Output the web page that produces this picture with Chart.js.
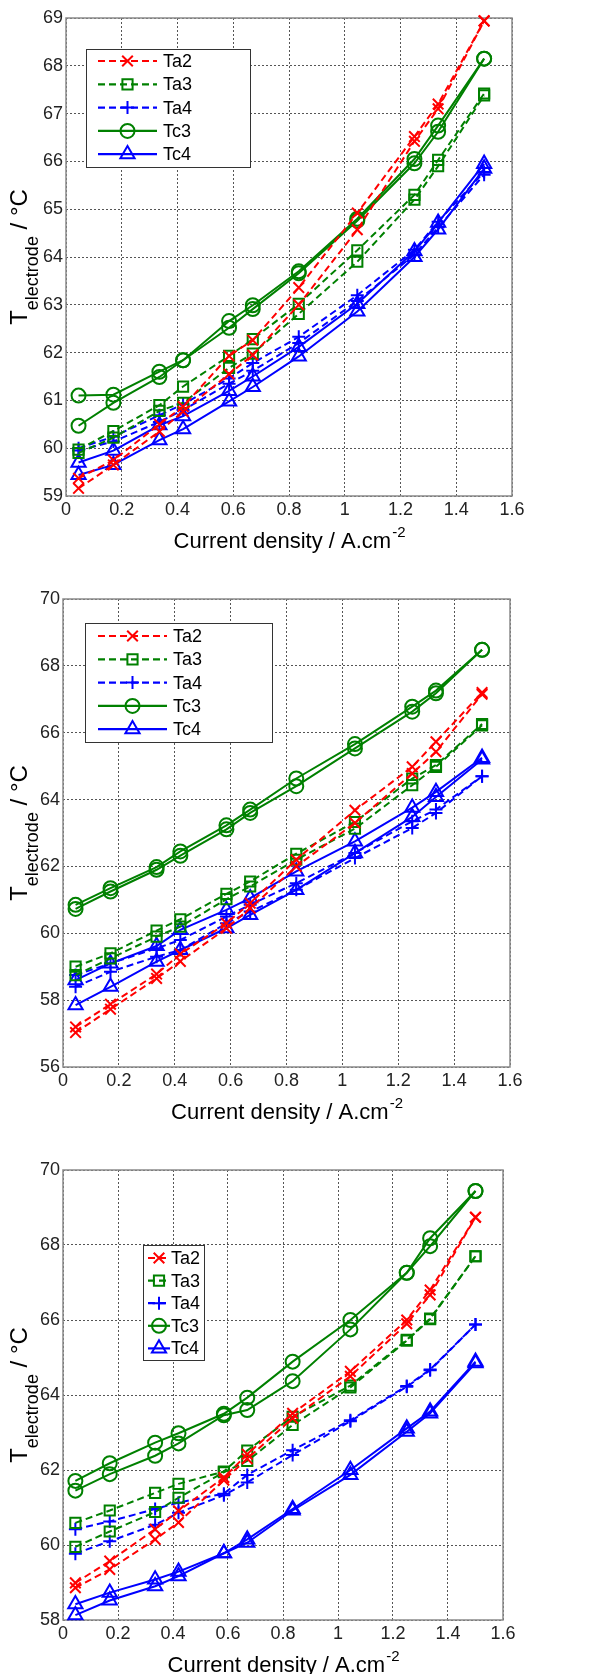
<!DOCTYPE html>
<html>
<head>
<meta charset="utf-8">
<title>Electrode temperature vs current density</title>
<script src="https://cdn.jsdelivr.net/npm/chart.js@4.4.1/dist/chart.umd.min.js"></script>
<style>
  html, body { margin: 0; padding: 0; background: #fff; }
  body { position: relative; width: 610px; height: 1674px; overflow: hidden; }
  canvas { position: absolute; left: 0; }
</style>
</head>
<body>
<canvas id="chart1" width="610" height="560" style="top:0px"></canvas>
<canvas id="chart2" width="610" height="562" style="top:562px"></canvas>
<canvas id="chart3" width="610" height="548" style="top:1126px"></canvas>

<script>
/* ---------------------------------------------------------
   Data — each series has two runs
--------------------------------------------------------- */
const currentDensity = [0.045, 0.17, 0.335, 0.42, 0.585, 0.67, 0.835, 1.045, 1.25, 1.335, 1.5];
const xTickValues = [0, 0.2, 0.4, 0.6, 0.8, 1, 1.2, 1.4, 1.6];
const seriesNames = ["Ta2", "Ta3", "Ta4", "Tc3", "Tc4"];

// top panel
const p1Ta2 = [[59.37, 59.75, 60.5, 60.87, 61.93, 62.26, 63.36, 64.92, 66.52, 67.2, 68.94],
               [59.16, 59.65, 60.35, 60.77, 61.55, 61.95, 63.0, 64.57, 66.42, 67.1, 68.94]];
const p1Ta3 = [[59.97, 60.36, 60.9, 61.29, 61.93, 62.28, 63.02, 64.14, 65.3, 66.03, 67.42],
               [59.9, 60.22, 60.78, 60.95, 61.68, 61.98, 62.81, 63.9, 65.2, 65.9, 67.38]];
const p1Ta4 = [[60.0, 60.24, 60.69, 60.92, 61.46, 61.78, 62.33, 63.2, 64.15, 64.74, 65.78],
               [59.95, 60.14, 60.55, 60.8, 61.35, 61.62, 62.2, 63.08, 64.05, 64.62, 65.72]];
const p1Tc3 = [[61.1, 61.12, 61.6, 61.84, 62.66, 62.99, 63.7, 64.8, 66.05, 66.75, 68.15],
               [60.47, 60.95, 61.49, 61.84, 62.52, 62.91, 63.66, 64.76, 65.96, 66.62, 68.15]];
const p1Tc4 = [[59.7, 59.95, 60.48, 60.67, 61.2, 61.5, 62.12, 63.02, 64.12, 64.72, 65.95],
               [59.44, 59.65, 60.17, 60.4, 60.98, 61.28, 61.92, 62.86, 64.0, 64.58, 65.85]];

// middle panel
const p2Ta2 = [[57.2, 57.88, 58.78, 59.38, 60.3, 60.9, 62.2, 63.68, 64.98, 65.73, 67.2],
               [57.03, 57.73, 58.65, 59.16, 60.15, 60.75, 62.0, 63.3, 64.78, 65.43, 67.15]];
const p2Ta3 = [[59.0, 59.4, 60.08, 60.42, 61.18, 61.55, 62.38, 63.33, 64.63, 65.03, 66.26],
               [58.75, 59.25, 59.9, 60.2, 61.02, 61.4, 62.2, 63.13, 64.43, 64.98, 66.22]];
const p2Ta4 = [[58.75, 59.1, 59.55, 59.8, 60.5, 60.85, 61.5, 62.4, 63.35, 63.7, 64.7],
               [58.4, 58.85, 59.3, 59.5, 60.3, 60.65, 61.3, 62.25, 63.15, 63.6, 64.7]];
const p2Tc3 = [[60.85, 61.35, 61.98, 62.45, 63.23, 63.7, 64.63, 65.66, 66.78, 67.26, 68.48],
               [60.73, 61.25, 61.9, 62.32, 63.11, 63.6, 64.4, 65.53, 66.63, 67.18, 68.48]];
const p2Tc4 = [[58.6, 59.1, 59.62, 60.1, 60.7, 61.05, 61.85, 62.75, 63.76, 64.23, 65.25],
               [57.85, 58.4, 59.15, 59.5, 60.15, 60.55, 61.3, 62.4, 63.48, 64.08, 65.2]];

// bottom panel
const p3Ta2 = [[58.99, 59.57, 60.42, 60.91, 61.8, 62.42, 63.51, 64.63, 66.0, 66.8, 68.74],
               [58.86, 59.35, 60.15, 60.6, 61.73, 62.3, 63.38, 64.5, 65.9, 66.67, 68.74]];
const p3Ta3 = [[60.59, 60.92, 61.39, 61.63, 61.96, 62.52, 63.42, 64.25, 65.47, 66.04, 67.7],
               [59.95, 60.36, 60.88, 61.26, 61.94, 62.24, 63.2, 64.2, 65.45, 66.02, 67.7]];
const p3Ta4 = [[60.42, 60.63, 60.96, 61.13, 61.37, 61.87, 62.53, 63.33, 64.24, 64.68, 65.88],
               [59.77, 60.1, 60.54, 60.86, 61.33, 61.67, 62.4, 63.3, 64.22, 64.66, 65.88]];
const p3Tc3 = [[61.71, 62.18, 62.73, 62.98, 63.5, 63.93, 64.89, 66.0, 67.26, 68.18, 69.44],
               [61.45, 61.89, 62.38, 62.71, 63.46, 63.6, 64.37, 65.75, 67.26, 67.97, 69.44]];
const p3Tc4 = [[58.42, 58.73, 59.08, 59.29, 59.78, 60.15, 60.96, 62.0, 63.11, 63.56, 64.89],
               [58.13, 58.52, 58.9, 59.17, 59.78, 60.06, 60.92, 61.87, 63.02, 63.51, 64.85]];

/* ---------------------------------------------------------
   Styles / layout
--------------------------------------------------------- */
const FONT = "'Liberation Sans', Arial, sans-serif";
Chart.defaults.font.family = FONT;

const seriesStyles = [
  { color: "#ff0000", dash: [7, 4], marker: "crossRot", radius: 7.5 },
  { color: "#008000", dash: [7, 4], marker: "rect", radius: 7.2 },
  { color: "#0000ff", dash: [7, 4], marker: "cross", radius: 6.5 },
  { color: "#008000", dash: [], marker: "circle", radius: 7 },
  { color: "#0000ff", dash: [], marker: "triangle", radius: 8.2 },
];

const panels = [
  {
    id: "chart1", top: 0, height: 560,
    area: { left: 66, right: 512, top: 18, bottom: 496 },
    yMin: 59, yMax: 69, yStep: 1,
    series: [p1Ta2, p1Ta3, p1Ta4, p1Tc3, p1Tc4],
    legend: { x: 86, y: 49, w: 164, h: 118, row0: 61, step: 23.3, x1: 98, x2: 157, tx: 163 },
  },
  {
    id: "chart2", top: 562, height: 562,
    area: { left: 63, right: 510, top: 599, bottom: 1067 },
    yMin: 56, yMax: 70, yStep: 2,
    series: [p2Ta2, p2Ta3, p2Ta4, p2Tc3, p2Tc4],
    legend: { x: 85, y: 623, w: 187, h: 119, row0: 636, step: 23.3, x1: 98, x2: 167, tx: 173 },
  },
  {
    id: "chart3", top: 1126, height: 548,
    area: { left: 63, right: 503, top: 1170, bottom: 1620 },
    yMin: 58, yMax: 70, yStep: 2,
    series: [p3Ta2, p3Ta3, p3Ta4, p3Tc3, p3Tc4],
    legend: { x: 143, y: 1245, w: 61, h: 115, row0: 1258, step: 22.6, x1: 148, x2: 170, tx: 171 },
  },
];

/* ---------------------------------------------------------
   Helpers
--------------------------------------------------------- */
function buildDatasets(series) {
  const out = [];
  series.forEach((runs, i) => {
    const st = seriesStyles[i];
    runs.forEach((values) => {
      out.push({
        label: seriesNames[i],
        data: currentDensity.map((x, k) => ({ x, y: values[k] })),
        showLine: true,
        borderColor: st.color,
        borderWidth: 2,
        borderDash: st.dash,
        pointStyle: st.marker,
        pointRadius: st.radius,
        pointBorderColor: st.color,
        pointBackgroundColor: "rgba(0,0,0,0)",
        pointBorderWidth: 2,
        tension: 0,
        fill: false,
        clip: false,
      });
    });
  });
  return out;
}

function drawTitles(chart) {
  const { ctx, chartArea: a } = chart;
  ctx.save();
  ctx.fillStyle = "#000";
  ctx.textAlign = "left";
  ctx.textBaseline = "alphabetic";

  // x title with superscript
  const xMain = "Current density / A.cm";
  ctx.font = "22px " + FONT;
  const w1 = ctx.measureText(xMain).width;
  ctx.font = "15px " + FONT;
  const w2 = ctx.measureText("-2").width;
  const x0 = (a.left + a.right) / 2 - (w1 + w2) / 2;
  const yb = a.bottom + 52;
  ctx.font = "22px " + FONT;
  ctx.fillText(xMain, x0, yb);
  ctx.font = "15px " + FONT;
  ctx.fillText("-2", x0 + w1 + 1, yb - 11);

  // y title with subscript, rotated
  ctx.translate(27, (a.top + a.bottom) / 2);
  ctx.rotate(-Math.PI / 2);
  ctx.font = "24px " + FONT;
  const wT = ctx.measureText("T").width;
  const wRest = ctx.measureText(" / \u00B0C").width;
  ctx.font = "18px " + FONT;
  const wSub = ctx.measureText("electrode").width;
  let px = -(wT + wSub + wRest) / 2;
  ctx.font = "24px " + FONT;
  ctx.fillText("T", px, 0);
  px += wT;
  ctx.font = "18px " + FONT;
  ctx.fillText("electrode", px, 11);
  px += wSub;
  ctx.font = "24px " + FONT;
  ctx.fillText(" / \u00B0C", px, 0);
  ctx.restore();
}

function drawMarker(ctx, style, radius, x, y) {
  if (Chart.helpers && Chart.helpers.drawPoint) {
    Chart.helpers.drawPoint(ctx, { pointStyle: style, radius, rotation: 0, borderWidth: 1 }, x, y);
  }
}

function drawLegend(chart, lg, top) {
  const { ctx } = chart;
  ctx.save();
  const y0 = lg.y - top;
  ctx.fillStyle = "#fff";
  ctx.fillRect(lg.x, y0, lg.w, lg.h);
  ctx.strokeStyle = "#333";
  ctx.lineWidth = 1;
  ctx.strokeRect(lg.x + 0.5, y0 + 0.5, lg.w, lg.h);

  seriesNames.forEach((name, i) => {
    const ds = chart.data.datasets[i * 2];
    const y = lg.row0 - top + i * lg.step;
    ctx.strokeStyle = ds.borderColor;
    ctx.lineWidth = 2.2;
    ctx.setLineDash(ds.borderDash);
    ctx.beginPath();
    ctx.moveTo(lg.x1, y);
    ctx.lineTo(lg.x2, y);
    ctx.stroke();
    ctx.setLineDash([]);
    ctx.lineWidth = ds.pointBorderWidth;
    ctx.fillStyle = "rgba(0,0,0,0)";
    drawMarker(ctx, ds.pointStyle, ds.pointRadius, (lg.x1 + lg.x2) / 2, y);

    ctx.fillStyle = "#000";
    ctx.font = "18px " + FONT;
    ctx.textAlign = "left";
    ctx.textBaseline = "middle";
    ctx.fillText(name, lg.tx, y + 1);
  });
  ctx.restore();
}

function panelDecor(p) {
  return {
    id: "panelDecor",
    beforeDatasetsDraw(chart) {
      const { ctx, chartArea: a } = chart;
      ctx.save();
      ctx.strokeStyle = "#8a8a8a";
      ctx.lineWidth = 1.5;
      ctx.strokeRect(a.left, a.top, a.right - a.left, a.bottom - a.top);
      ctx.restore();
    },
    afterDraw(chart) {
      drawTitles(chart);
      drawLegend(chart, p.legend, p.top);
    },
  };
}

/* ---------------------------------------------------------
   Build the three panels
--------------------------------------------------------- */
panels.forEach((p) => {
  const canvas = document.getElementById(p.id);
  const areaTop = p.area.top - p.top;
  const areaBottom = p.area.bottom - p.top;

  new Chart(canvas.getContext("2d"), {
    type: "scatter",
    data: { datasets: buildDatasets(p.series) },
    options: {
      responsive: false,
      animation: false,
      events: [],
      layout: { padding: { top: areaTop, right: 610 - p.area.right, left: 0, bottom: 0 } },
      plugins: { legend: { display: false }, tooltip: { enabled: false } },
      scales: {
        x: {
          type: "linear",
          min: 0,
          max: 1.6,
          afterBuildTicks: (scale) => { scale.ticks = xTickValues.map((v) => ({ value: v })); },
          afterFit: (scale) => { scale.height = p.height - areaBottom; },
          grid: { color: "#555", lineWidth: 1, drawTicks: false },
          border: { display: false, dash: [2, 2] },
          ticks: {
            color: "#222",
            font: { size: 18 },
            padding: 3,
            maxRotation: 0,
            autoSkip: false,
            callback: (v) => String(+Number(v).toFixed(1)),
          },
        },
        y: {
          type: "linear",
          min: p.yMin,
          max: p.yMax,
          afterFit: (scale) => { scale.width = p.area.left; },
          grid: { color: "#555", lineWidth: 1, drawTicks: false },
          border: { display: false, dash: [2, 2] },
          ticks: {
            stepSize: p.yStep,
            color: "#222",
            font: { size: 18 },
            padding: 3,
            autoSkip: false,
          },
        },
      },
    },
    plugins: [panelDecor(p)],
  });
});
</script>
</body>
</html>
